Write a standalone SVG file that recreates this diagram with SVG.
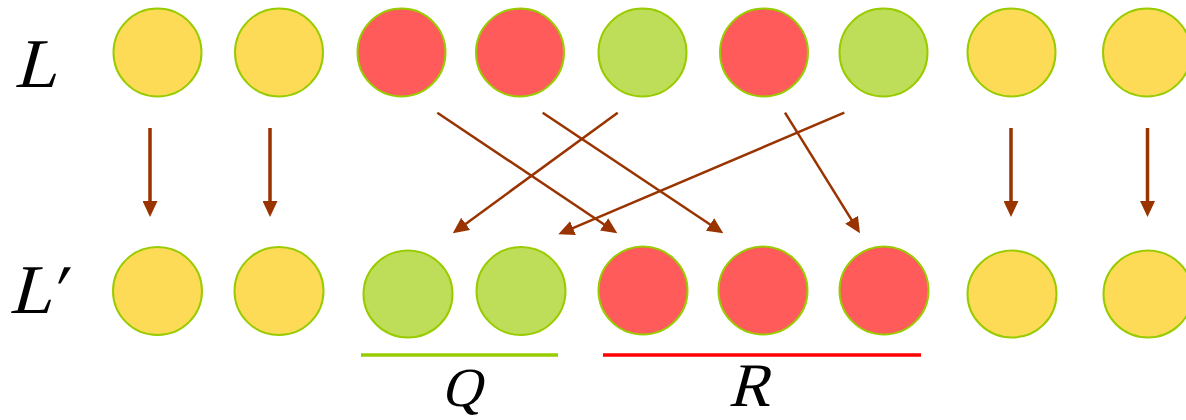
<svg xmlns="http://www.w3.org/2000/svg" width="1186" height="420" viewBox="0 0 1186 420">
<defs>
<style>
.y{fill:#FDDB57;stroke:#99CC00;stroke-width:2}
.r{fill:#FF5B5B;stroke:#99CC00;stroke-width:2}
.g{fill:#BEDE59;stroke:#99CC00;stroke-width:2}
.a{stroke:#993300;fill:none}
.v{stroke-width:3.5}
.d{stroke-width:2.5}
</style>
<marker id="ah" viewBox="0 0 16 15" markerWidth="16" markerHeight="15" refX="6" refY="7.5" orient="auto" markerUnits="userSpaceOnUse">
<path d="M0,0 L16,7.5 L0,15 z" fill="#993300"/>
</marker>
</defs>
<rect width="1186" height="420" fill="#fff"/>
<g id="labels" font-family="Liberation Serif, serif" font-style="normal" fill="#000">
<text transform="translate(14,87) skewX(-15)" font-size="70">L</text>
<text transform="translate(9,313) skewX(-15)" font-size="70">L<tspan dx="-5">′</tspan></text>
</g>
<g id="top-row">
<g id="t1"><circle class="y" cx="157.5" cy="52.5" r="44"/></g>
<g id="t2"><circle class="y" cx="279" cy="52.5" r="44"/></g>
<g id="t3"><circle class="r" cx="401.5" cy="52.5" r="44"/></g>
<g id="t4"><circle class="r" cx="520" cy="52.5" r="44"/></g>
<g id="t5"><circle class="g" cx="642.5" cy="52.5" r="44"/></g>
<g id="t6"><circle class="r" cx="764" cy="52.5" r="44"/></g>
<g id="t7"><circle class="g" cx="883.5" cy="52.5" r="44"/></g>
<g id="t8"><circle class="y" cx="1011.5" cy="52.5" r="44"/></g>
<g id="t9"><circle class="y" cx="1147" cy="52.5" r="44"/></g>
</g>
<g id="bottom-row">
<g id="b1"><ellipse class="y" cx="157.5" cy="291" rx="44.5" ry="44"/></g>
<g id="b2"><ellipse class="y" cx="279" cy="291" rx="44.5" ry="44"/></g>
<g id="b3"><ellipse class="g" cx="408" cy="294" rx="44.5" ry="43.5"/></g>
<g id="b4"><ellipse class="g" cx="521" cy="291" rx="44.5" ry="44"/></g>
<g id="b5"><ellipse class="r" cx="643" cy="290.5" rx="44.5" ry="44"/></g>
<g id="b6"><ellipse class="r" cx="763" cy="290.5" rx="44.5" ry="44"/></g>
<g id="b7"><ellipse class="r" cx="884" cy="290.5" rx="44.5" ry="44"/></g>
<g id="b8"><ellipse class="y" cx="1012" cy="294" rx="44.5" ry="43.5"/></g>
<g id="b9"><ellipse class="y" cx="1148" cy="294" rx="44.5" ry="43.5"/></g>
</g>
<g id="connectors">
<line class="a v" x1="150" y1="128" x2="150" y2="207" marker-end="url(#ah)"/>
<line class="a v" x1="270" y1="128" x2="270" y2="207" marker-end="url(#ah)"/>
<line class="a v" x1="1011" y1="128" x2="1011" y2="207" marker-end="url(#ah)"/>
<line class="a v" x1="1147.5" y1="128" x2="1147.5" y2="207" marker-end="url(#ah)"/>
<line class="a d" x1="437.3" y1="112.7" x2="609" y2="227.7" marker-end="url(#ah)"/>
<line class="a d" x1="542.7" y1="112.7" x2="715" y2="227.8" marker-end="url(#ah)"/>
<line class="a d" x1="617.7" y1="112.7" x2="460.8" y2="227.4" marker-end="url(#ah)"/>
<line class="a d" x1="844.3" y1="112.7" x2="567.5" y2="230.4" marker-end="url(#ah)"/>
<line class="a d" x1="785" y1="112.7" x2="854.7" y2="224.8" marker-end="url(#ah)"/>
</g>
<g id="groups">
<line x1="361" y1="355" x2="558" y2="355" stroke="#99CC00" stroke-width="3.5"/>
<line x1="603" y1="355" x2="921" y2="355" stroke="#FF0000" stroke-width="3.5"/>
<g font-family="Liberation Serif, serif" font-style="normal" fill="#000">
<text transform="translate(441,406) skewX(-15)" font-size="55">Q</text>
<text transform="translate(728,406) skewX(-15)" font-size="62">R</text>
</g>
</g>
</svg>
